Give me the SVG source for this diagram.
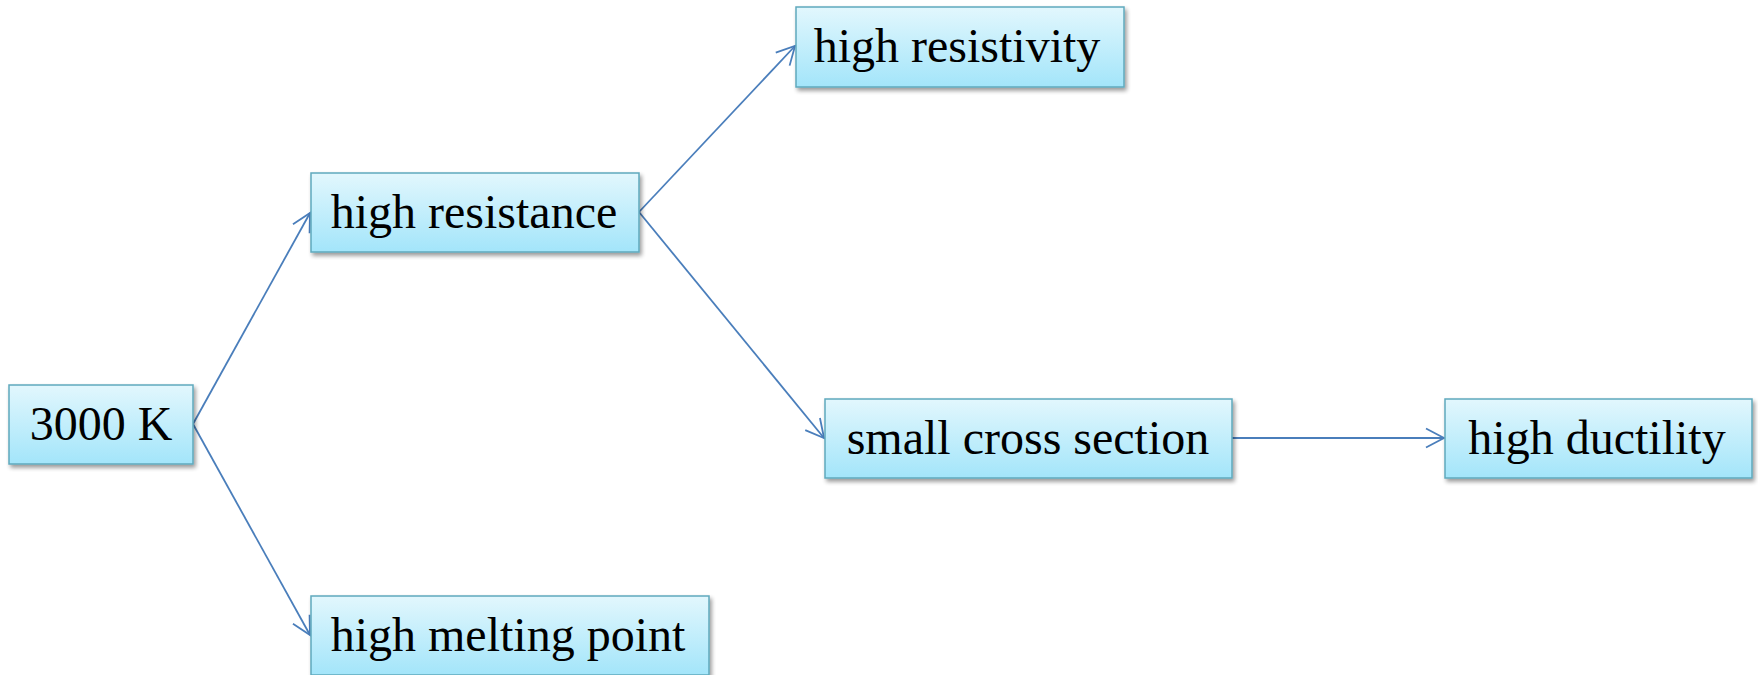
<svg xmlns="http://www.w3.org/2000/svg" width="1758" height="675" viewBox="0 0 1758 675">
<style>
.box{fill:url(#g);stroke:#5fa9bd;stroke-width:1.5;filter:url(#sh)}
.lbl{font-family:"Liberation Serif","Times New Roman",serif;font-size:48px;fill:#000;text-anchor:middle}
.con{stroke:#4a7ebb;stroke-width:1.8;fill:none;marker-end:url(#arr)}
</style>
<defs>
<linearGradient id="g" x1="0" y1="0" x2="0" y2="1">
<stop offset="0" stop-color="#e2f7fd"/>
<stop offset="1" stop-color="#a3e5fa"/>
</linearGradient>
<filter id="sh" x="-10%" y="-20%" width="120%" height="150%">
<feGaussianBlur in="SourceAlpha" stdDeviation="2"/>
<feOffset dx="2" dy="3" result="o"/>
<feComponentTransfer><feFuncA type="linear" slope="0.4"/></feComponentTransfer>
<feMerge><feMergeNode/><feMergeNode in="SourceGraphic"/></feMerge>
</filter>
<marker id="arr" markerUnits="userSpaceOnUse" markerWidth="21" markerHeight="22" refX="19" refY="11" orient="auto" viewBox="0 0 21 22">
<path d="M1,1.5 L19,11 L1,20.5" fill="none" stroke="#4a7ebb" stroke-width="1.8"/>
</marker>
</defs>
<g id="connectors">
<line class="con" x1="193" y1="424" x2="310" y2="213"/>
<line class="con" x1="193" y1="424" x2="310" y2="635"/>
<line class="con" x1="639" y1="212" x2="795" y2="46"/>
<line class="con" x1="639" y1="212" x2="824" y2="438"/>
<line class="con" x1="1232" y1="438" x2="1444" y2="438"/>
</g>
<g id="n1"><rect class="box" x="9" y="385" width="184" height="79"/><text class="lbl" x="101" y="440">3000 K</text></g>
<g id="n2"><rect class="box" x="311" y="173" width="328" height="79"/><text class="lbl" x="474" y="228">high resistance</text></g>
<g id="n3"><rect class="box" x="796" y="7" width="328" height="80"/><text class="lbl" x="957" y="62">high resistivity</text></g>
<g id="n4"><rect class="box" x="825" y="399" width="407" height="79"/><text class="lbl" x="1028" y="454">small cross section</text></g>
<g id="n5"><rect class="box" x="1445" y="399" width="307" height="79"/><text class="lbl" x="1597" y="454">high ductility</text></g>
<g id="n6"><rect class="box" x="311" y="596" width="398" height="79"/><text class="lbl" x="508" y="651">high melting point</text></g>
</svg>
